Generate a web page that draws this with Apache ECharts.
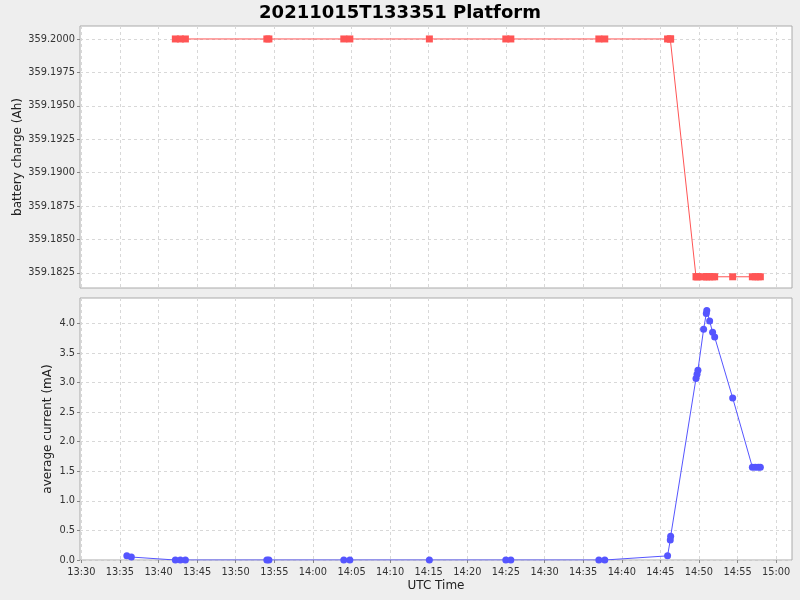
<!DOCTYPE html>
<html><head><meta charset="utf-8">
<script src="https://cdn.jsdelivr.net/npm/echarts@6/dist/echarts.min.js"></script>
<style>html,body{margin:0;padding:0;background:#eeeeee}#c{width:800px;height:600px}</style>
</head><body><div id="c"></div>
<script>
// ---- data ----
const titleText = '20211015T133351 Platform';
const chargeTimes = ['13:42:11','13:42:50','13:43:29','13:54:02','13:54:18','14:04:00','14:04:47','14:15:05',
  '14:24:59','14:25:38','14:37:02','14:37:48','14:45:56','14:46:17','14:46:20',
  '14:49:37','14:49:45','14:49:52','14:50:36','14:50:57','14:51:01','14:51:23','14:51:46','14:52:02',
  '14:54:22','14:56:55','14:57:18','14:57:41','14:57:57'];
const chargeValues = [359.2,359.2,359.2,359.2,359.2,359.2,359.2,359.2,
  359.2,359.2,359.2,359.2,359.2,359.2,359.2,
  359.1822,359.1822,359.1822,359.1822,359.1822,359.1822,359.1822,359.1822,359.1822,
  359.1822,359.1822,359.1822,359.1822,359.1822];
const currentTimes = ['13:35:54','13:36:29','13:42:11','13:42:50','13:43:29','13:54:02','13:54:18','14:04:00','14:04:47','14:15:05',
  '14:24:59','14:25:38','14:37:02','14:37:48','14:45:56','14:46:17','14:46:20',
  '14:49:37','14:49:45','14:49:52','14:50:36','14:50:57','14:51:01','14:51:23','14:51:46','14:52:02',
  '14:54:22','14:56:55','14:57:18','14:57:41','14:57:57'];
const currentValues = [0.07,0.05,0.0,0.0,0.0,0.0,0.0,0.0,0.0,0.0,
  0.0,0.0,0.0,0.0,0.07,0.34,0.40,
  3.07,3.14,3.21,3.90,4.17,4.22,4.04,3.85,3.77,
  2.74,1.57,1.57,1.57,1.57];
const xTickLabels = ['13:30','13:35','13:40','13:45','13:50','13:55','14:00','14:05','14:10','14:15',
  '14:20','14:25','14:30','14:35','14:40','14:45','14:50','14:55','15:00'];
const chargeTicks = [359.1825,359.1850,359.1875,359.1900,359.1925,359.1950,359.1975,359.2000];
const currentTicks = [0.0,0.5,1.0,1.5,2.0,2.5,3.0,3.5,4.0];
const xStart = '13:29:50', xEnd = '15:02:03';
const chargeRange = [359.18136, 359.20097];
const currentRange = [0, 4.43];

// ---- helpers ----
function ts(s){ const p = s.split(':').map(Number); return Date.UTC(2021, 9, 15, p[0], p[1], p[2] || 0); }
function pad(n){ return (n < 10 ? '0' : '') + n; }
function fmtTime(v){ const d = new Date(v); return pad(d.getUTCHours()) + ':' + pad(d.getUTCMinutes()); }
const xTicks = xTickLabels.map(s => ts(s));
const FONT = 'DejaVu Sans';
const gridLine = { show: true, lineStyle: { color: '#d8d8d8', type: [3, 3], width: 1 } };
const tickStyle = { color: '#888' };
const tickFont = { fontFamily: FONT, fontSize: 9.8, color: '#333' };
const nameFont = { fontFamily: FONT, fontSize: 12, color: '#222' };

const chart = echarts.init(document.getElementById('c'), null, { renderer: 'canvas' });
chart.setOption({
  animation: false,
  backgroundColor: '#eeeeee',
  title: { text: titleText, left: 'center', top: -1, textStyle: { fontFamily: FONT, fontSize: 18, fontWeight: 'bold', color: '#000' } },
  grid: [
    { left: 80, right: 8, top: 26, height: 262, show: true, backgroundColor: '#fff', borderColor: '#aaa', borderWidth: 1 },
    { left: 80, right: 8, top: 298, height: 262, show: true, backgroundColor: '#fff', borderColor: '#aaa', borderWidth: 1 }
  ],
  xAxis: [
    { type: 'value', gridIndex: 0, min: ts(xStart), max: ts(xEnd),
      splitLine: gridLine, axisLine: { show: false },
      axisTick: { show: false, customValues: xTicks },
      axisLabel: { show: false, customValues: xTicks } },
    { type: 'value', gridIndex: 1, min: ts(xStart), max: ts(xEnd),
      splitLine: gridLine, axisLine: { show: false },
      axisTick: { show: true, length: 3, lineStyle: tickStyle, customValues: xTicks },
      axisLabel: Object.assign({ customValues: xTicks, formatter: fmtTime, margin: 7 }, tickFont),
      name: 'UTC Time', nameLocation: 'middle', nameGap: 20, nameMoveOverlap: false,
      nameTextStyle: nameFont }
  ],
  yAxis: [
    { type: 'value', gridIndex: 0, min: chargeRange[0], max: chargeRange[1],
      splitLine: gridLine, axisLine: { show: false },
      axisTick: { show: true, length: 3, lineStyle: tickStyle, customValues: chargeTicks },
      axisLabel: Object.assign({ customValues: chargeTicks, formatter: v => v.toFixed(4), margin: 5 }, tickFont),
      name: 'battery charge (Ah)', nameLocation: 'middle', nameGap: 56, nameMoveOverlap: false,
      nameTextStyle: nameFont },
    { type: 'value', gridIndex: 1, min: currentRange[0], max: currentRange[1],
      splitLine: gridLine, axisLine: { show: false },
      axisTick: { show: true, length: 3, lineStyle: tickStyle, customValues: currentTicks },
      axisLabel: Object.assign({ customValues: currentTicks, formatter: v => v.toFixed(1), margin: 5 }, tickFont),
      name: 'average current (mA)', nameLocation: 'middle', nameGap: 26, nameMoveOverlap: false,
      nameTextStyle: nameFont }
  ],
  series: [
    { type: 'line', xAxisIndex: 0, yAxisIndex: 0,
      data: chargeTimes.map((t, i) => [ts(t), chargeValues[i]]),
      symbol: 'rect', symbolSize: [7, 7], showAllSymbol: true,
      itemStyle: { color: '#ff5555' }, lineStyle: { color: '#ff5555', width: 1 } },
    { type: 'line', xAxisIndex: 1, yAxisIndex: 1,
      data: currentTimes.map((t, i) => [ts(t), currentValues[i]]),
      symbol: 'circle', symbolSize: 7, showAllSymbol: true,
      itemStyle: { color: '#5555ff' }, lineStyle: { color: '#5555ff', width: 1 } }
  ]
});
</script></body></html>
